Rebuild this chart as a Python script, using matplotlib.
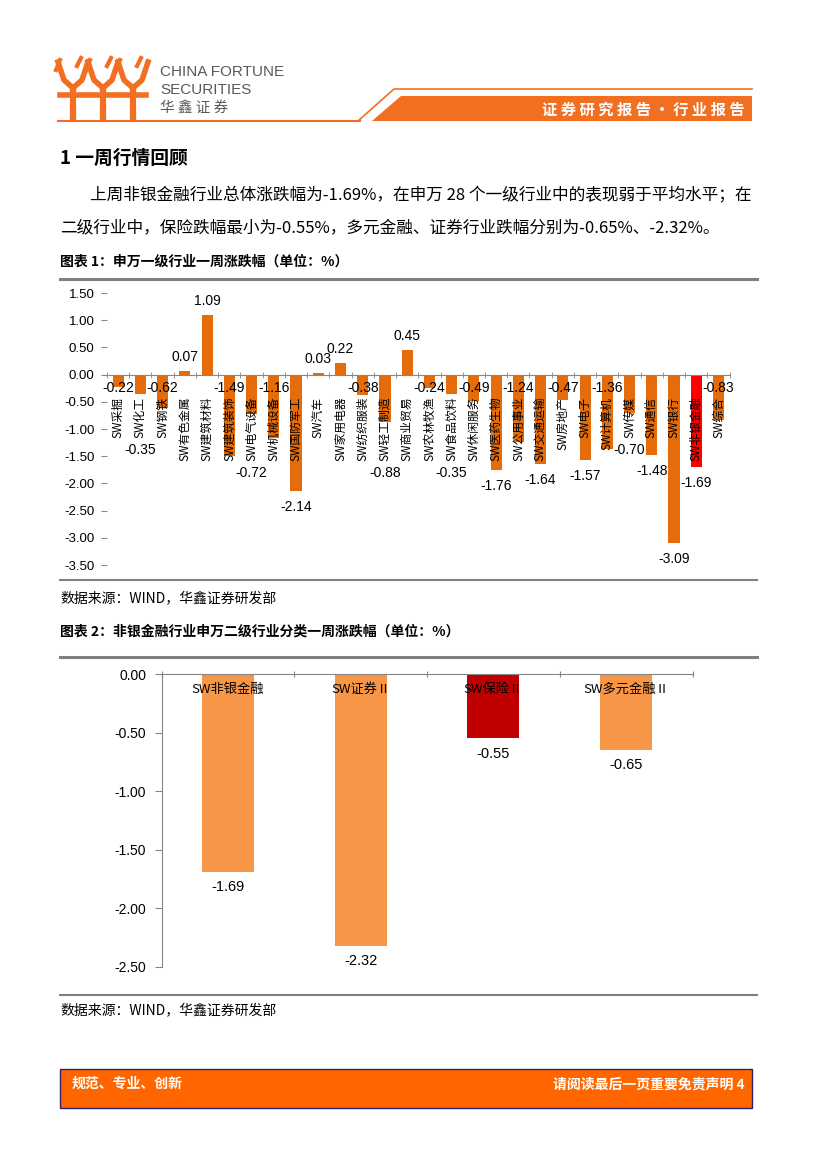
import numpy as np
import matplotlib
matplotlib.use('Agg')
import matplotlib.pyplot as plt
from matplotlib import font_manager
from matplotlib.patches import Polygon, Rectangle
from matplotlib.ticker import FormatStrFormatter

plt.rcParams['font.family'] = ['Noto Sans CJK SC', 'DejaVu Sans']
plt.rcParams['axes.unicode_minus'] = False

# ---- data: chart 1 (SW level-1 industries, weekly change %)
industries = ['SW采掘', 'SW化工', 'SW钢铁', 'SW有色金属', 'SW建筑材料', 'SW建筑装饰',
              'SW电气设备', 'SW机械设备', 'SW国防军工', 'SW汽车', 'SW家用电器', 'SW纺织服装',
              'SW轻工制造', 'SW商业贸易', 'SW农林牧渔', 'SW食品饮料', 'SW休闲服务', 'SW医药生物',
              'SW公用事业', 'SW交通运输', 'SW房地产', 'SW电子', 'SW计算机', 'SW传媒',
              'SW通信', 'SW银行', 'SW非银金融', 'SW综合']
weekly_chg = [-0.22, -0.35, -0.62, 0.07, 1.09, -1.49, -0.72, -1.16, -2.14, 0.03,
              0.22, -0.38, -0.88, 0.45, -0.24, -0.35, -0.49, -1.76, -1.24, -1.64,
              -0.47, -1.57, -1.36, -0.70, -1.48, -3.09, -1.69, -0.83]
highlight1 = 'SW非银金融'
# 1 = label sits just under the zero line, 0 = label under the bar
label_at_axis = [1, 0, 1, 0, 0, 1, 0, 1, 0, 0, 0, 1, 0, 0, 1, 0, 1, 0, 1, 0,
                 1, 0, 1, 0, 0, 0, 0, 1]

# ---- data: chart 2 (non-bank sub industries)
sub_industries = ['SW非银金融', 'SW证券Ⅱ', 'SW保险Ⅱ', 'SW多元金融Ⅱ']
sub_chg = [-1.69, -2.32, -0.55, -0.65]
highlight2 = 'SW保险Ⅱ'

ORANGE = '#F26F21'
GRAY = '#808080'
W, H = 827, 1169

names = {f.name for f in font_manager.fontManager.ttflist}
narrow = 'Liberation Sans Narrow' if 'Liberation Sans Narrow' in names else 'Liberation Sans'

fig = plt.figure(figsize=(W / 100, H / 100), dpi=100)
page = fig.add_axes([0, 0, 1, 1])
page.set_xlim(0, W)
page.set_ylim(H, 0)
page.axis('off')

# ---- header / logo
for cx in [73, 103, 133]:
    page.plot([cx, cx], [86, 122], color=ORANGE, lw=4.5, solid_capstyle='butt')
    page.plot([cx - 13, cx + 13], [95, 95], color=ORANGE, lw=4)
    page.plot([cx - 15, cx - 9, cx, cx + 9, cx + 15], [62, 80, 88, 80, 62], color=ORANGE, lw=4)
    page.plot([cx - 17, cx - 13], [70, 60], color=ORANGE, lw=3)
    page.plot([cx + 4, cx + 8], [66, 58], color=ORANGE, lw=3)
page.text(160, 72, 'CHINA FORTUNE', fontsize=11, color='#595959', va='center',
          family='Liberation Sans')
page.text(160, 90, 'SECURITIES', fontsize=11, color='#595959', va='center',
          family='Liberation Sans')
page.text(160, 108, '华 鑫 证 券', fontsize=10.5, color='#595959', va='center')
page.plot([58, 360], [121, 121], color=ORANGE, lw=1.5)
page.plot([358, 394, 752], [121, 89, 89], color=ORANGE, lw=1.2)
page.add_patch(Polygon([(372, 121), (401, 96), (752, 96), (752, 121)], closed=True,
                       facecolor=ORANGE, edgecolor='none'))
page.text(745, 110, '证 券 研 究 报 告 · 行 业 报 告', ha='right', va='center',
          color='white', fontsize=11, fontweight='bold')

# ---- body text
page.text(60, 158, '1 一周行情回顾', fontsize=13.5, fontweight='bold', va='center')
page.text(90, 196, '上周非银金融行业总体涨跌幅为-1.69%，在申万 28 个一级行业中的表现弱于平均水平；在',
          fontsize=12, va='center')
page.text(60, 228, '二级行业中，保险跌幅最小为-0.55%，多元金融、证券行业跌幅分别为-0.65%、-2.32%。',
          fontsize=12, va='center')

page.text(60, 262, '图表 1：申万一级行业一周涨跌幅（单位：%）', fontsize=10, fontweight='bold', va='center')
page.plot([60, 757], [279, 279], color=GRAY, lw=2.2)
page.plot([60, 757], [580, 580], color=GRAY, lw=1.5)
page.text(60, 598, '数据来源：WIND，华鑫证券研发部', fontsize=10, style='italic', va='center')

page.text(60, 632, '图表 2：非银金融行业申万二级行业分类一周涨跌幅（单位：%）', fontsize=10,
          fontweight='bold', va='center')
page.plot([60, 757], [657, 657], color=GRAY, lw=2.2)
page.plot([60, 757], [995, 995], color=GRAY, lw=1.5)
page.text(60, 1010, '数据来源：WIND，华鑫证券研发部', fontsize=10, style='italic', va='center')

# ---- footer
page.add_patch(Rectangle((60, 1069), 692, 39, facecolor='#FF6600', edgecolor='#2E2270', lw=1))
page.text(72, 1084, '规范、专业、创新', color='white', fontsize=10, fontweight='bold', va='center')
page.text(745, 1084, '请阅读最后一页重要免责声明 4', color='white', fontsize=10, fontweight='bold',
          va='center', ha='right')

# ---- chart 1
ax1 = fig.add_axes([107 / W, 1 - 565 / H, (729.6 - 107) / W, (565 - 293) / H])
x1 = np.arange(len(industries))
colors1 = ['#FF0000' if n == highlight1 else '#E46C0A' for n in industries]
ax1.bar(x1, weekly_chg, width=0.5, color=colors1, zorder=2)
ax1.set_axisbelow(False)
ax1.set_xlim(-0.5, len(industries) - 0.5)
ax1.set_ylim(-3.5, 1.5)
ax1.set_yticks(np.arange(-3.5, 1.51, 0.5))
ax1.yaxis.set_major_formatter(FormatStrFormatter('%.2f'))
for s in ['top', 'right', 'left']:
    ax1.spines[s].set_visible(False)
ax1.spines['bottom'].set_position(('data', 0))
ax1.spines['bottom'].set_color('#868686')
ax1.set_xticks(x1, industries, rotation=90, fontsize=8.5)
ax1.set_xticks(np.arange(-0.5, len(industries), 1), minor=True)
ax1.tick_params(axis='x', which='major', length=0, pad=16)
ax1.tick_params(axis='x', which='minor', length=4, direction='inout', color='#868686')
ax1.tick_params(axis='y', length=4, color='#868686', pad=5, labelsize=9.5,
                labelfontfamily='Liberation Sans')
ax1.patch.set_alpha(0)

fig.canvas.draw()
renderer = fig.canvas.get_renderer()
inv1 = ax1.transData.inverted()
for i, (v, lab, at_axis) in enumerate(zip(weekly_chg, ax1.get_xticklabels(), label_at_axis)):
    txt = f'{v:.2f}'
    if v >= 0:
        ax1.annotate(txt, (i, v), xytext=(0, 10), textcoords='offset points',
                     ha='center', va='center', fontsize=10, family='Liberation Sans', zorder=3)
    elif at_axis:
        ax1.annotate(txt, (i, 0), xytext=(0, -9.5), textcoords='offset points',
                     ha='center', va='center', fontsize=10, family='Liberation Sans', zorder=3)
    else:
        bb = lab.get_window_extent(renderer)
        bar_end = ax1.transData.transform((i, v))[1]
        y_px = min(bar_end - 16, bb.y0 - 12)
        y_dat = inv1.transform((0, y_px))[1]
        ax1.text(i, y_dat, txt, ha='center', va='center', fontsize=10,
                 family='Liberation Sans', zorder=3)

# ---- chart 2
ax2 = fig.add_axes([161.5 / W, 1 - 967 / H, (692.5 - 161.5) / W, (967 - 674) / H])
x2 = np.arange(len(sub_industries))
colors2 = ['#C00000' if n == highlight2 else '#F79646' for n in sub_industries]
ax2.bar(x2, sub_chg, width=0.39, color=colors2, zorder=2)
ax2.set_xlim(-0.5, len(sub_industries) - 0.5)
ax2.set_ylim(-2.5, 0)
ax2.set_yticks(np.arange(-2.5, 0.01, 0.5))
ax2.yaxis.set_major_formatter(FormatStrFormatter('%.2f'))
for s in ['bottom', 'right']:
    ax2.spines[s].set_visible(False)
for s in ['top', 'left']:
    ax2.spines[s].set_color('#868686')
ax2.xaxis.tick_top()
ax2.set_xticks(np.arange(-0.5, len(sub_industries), 1))
ax2.set_xticklabels([])
ax2.tick_params(axis='x', length=5, direction='inout', color='#868686')
ax2.tick_params(axis='y', length=5, color='#868686', pad=6, labelsize=10,
                labelfontfamily=narrow)
ax2.patch.set_alpha(0)
for i, (v, n) in enumerate(zip(sub_chg, sub_industries)):
    ax2.annotate(n, (i, 0), xytext=(0, -11), textcoords='offset points',
                 ha='center', va='center', fontsize=9.5, zorder=3)
    ax2.annotate(f'{v:.2f}', (i, v), xytext=(0, -11), textcoords='offset points',
                 ha='center', va='center', fontsize=10.5, family=narrow, zorder=3)

fig.savefig('out.png', dpi=100)
